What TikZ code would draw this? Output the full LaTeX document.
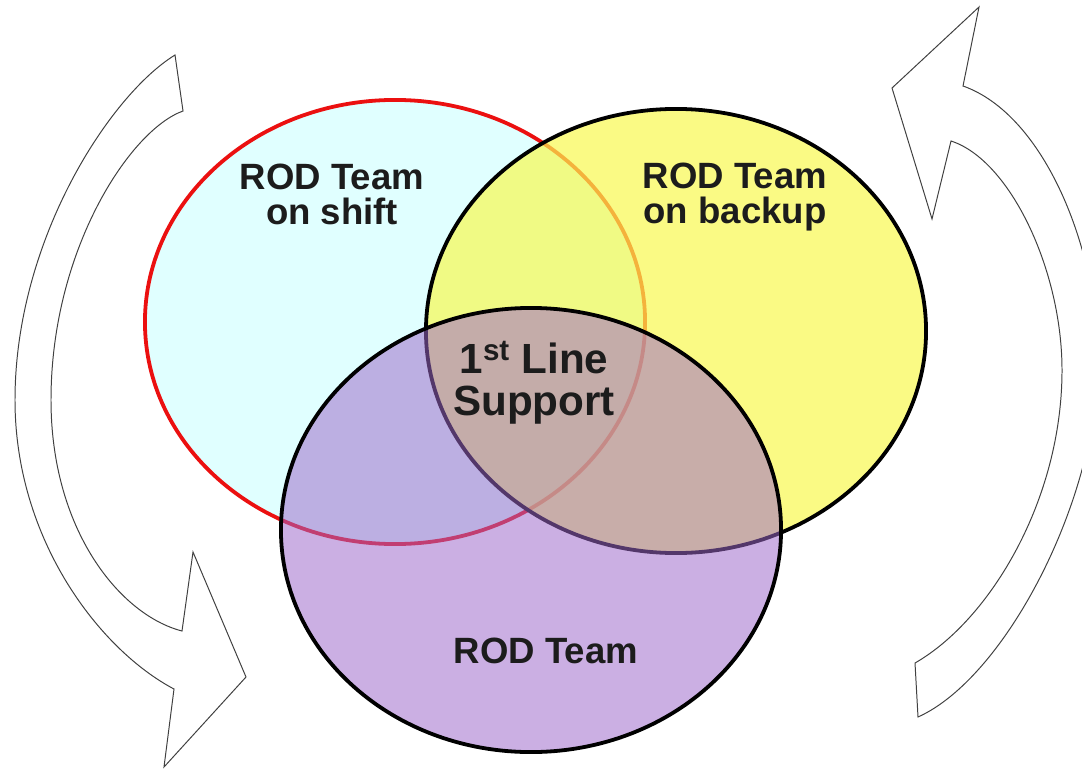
\documentclass[tikz,border=0pt]{standalone}
\usepackage{fontspec}
\setmainfont{Liberation Sans}
\usepackage{tikz}
\usetikzlibrary{shapes.geometric}
\definecolor{RODCyan}{RGB}{224,255,255}
\definecolor{RODRed}{RGB}{235,16,16}
\definecolor{RODYellow}{RGB}{248,248,80}
\definecolor{RODPurple}{RGB}{157,104,202}
\definecolor{RODInk}{RGB}{28,28,28}

\begin{document}
\begin{tikzpicture}[x=0.025cm, y=-0.025cm,
          team/.style={ellipse, minimum width=12.5cm, minimum height=11.1cm,
                       line width=2.7pt},
          lbl/.style={font=\fontsize{26}{25}\selectfont\bfseries,
                      text=RODInk, align=center},
          biglbl/.style={font=\fontsize{30}{30}\selectfont\bfseries,
                         text=RODInk, align=center},
          turn/.style={draw=black!75, line width=0.7pt, fill=white,
                       line join=miter}
        ]
        \clip (0,0) rectangle (1082,768);

        % Rotation arrows
        \draw[turn] (175,55) .. controls (110,95) and (15,240) .. (15,400)
              .. controls (15,540) and (100,650) .. (174,689)
              -- (164,767) -- (246,677) -- (193,552) -- (182,631)
              .. controls (120,615) and (51,530) .. (51,400)
              .. controls (51,250) and (130,130) .. (183,111)
              -- cycle;
        \draw[turn] (963,86) .. controls (1045,115) and (1098,250) .. (1098,360)
              .. controls (1098,500) and (1005,678) .. (918,717)
              -- (915,663)
              .. controls (990,620) and (1062,500) .. (1062,370)
              .. controls (1062,270) and (1010,160) .. (951,141)
              -- (932,219) -- (892,88) -- (979,7) -- cycle;

        % Team circles
        \node[team, draw=RODRed, fill=RODCyan] (shift) at (395,322) {};
        \node[team, draw=black, fill=RODYellow, fill opacity=0.7]
              (backup) at (676,331) {};
        \node[team, draw=black, fill=RODPurple, fill opacity=0.53]
              (rod) at (531,530) {};

        % Labels
        \node[lbl] (shiftlbl) at (332,194) {ROD Team\\on shift};
        \node[lbl] (backuplbl) at (735,197) {ROD Team\\on backup};
        \node[lbl] (rodlbl) at (546,651) {ROD Team};
        \node[biglbl] (firstlbl) at (534,383)
              {1\textsuperscript{st} Line\\Support};
      \end{tikzpicture}
\end{document}
